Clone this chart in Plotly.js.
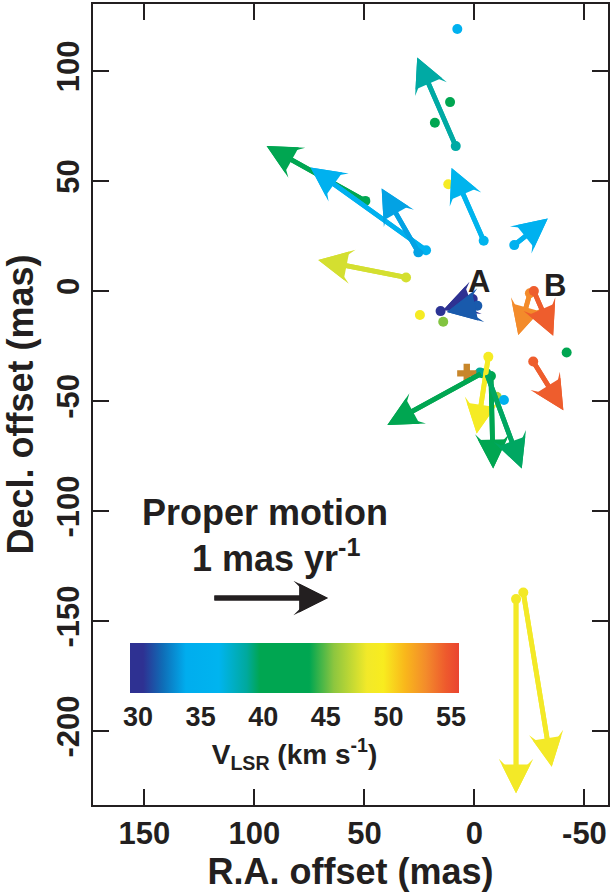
<!DOCTYPE html>
<html><head><meta charset="utf-8">
<script src="https://cdn.plot.ly/plotly-3.0.1.min.js"></script>
<style>html,body{margin:0;padding:0;background:#fff}</style>
</head><body><div id="chart" style="width:610px;height:895px"></div>
<script>
// Maser spots: R.A. offset (mas), Decl. offset (mas), V_LSR (km/s)
const spotRA  = [8.5, -4.2, -18.1, 49.6, 22.0, 25.5, 31.1, 0.8, -1.3, -25.2, -27.0, -26.7, -6.3, -3.5, -7.5, -5.5, -18.9, -22.2,
                 7.8, 11.1, 18.0, 11.9, 15.4, 24.8, 14.2, -41.9, -2.5, -10.1, -13.4];
const spotDec = [65.9, 22.9, 20.9, 41.0, 18.6, 17.6, 6.2, -3.6, -6.7, -1.0, 0.0, -32.0, -29.9, -37.3, -38.6, -37.4, -140.0, -137.0,
                 119.1, 85.9, 76.5, 48.6, -9.1, -10.9, -13.9, -27.9, -37.0, -48.0, -49.5];
const spotV   = [38.5, 36.5, 35.5, 42.0, 35.3, 33.5, 47.5, 30.0, 31.5, 53.0, 54.5, 54.5, 49.0, 40.3, 42.0, 39.5, 48.5, 48.5,
                 35.5, 42.0, 42.0, 49.0, 30.5, 49.0, 45.5, 42.0, 38.8, 46.5, 35.0];
// Proper motions (mas/yr); null = no measured motion
const pmRA  = [0.335, 0.279, -0.291, 0.858, 1.004, 0.319, 0.763, 0.256, 0.264, 0.101, -0.168, -0.262, 0.101, 0.824, -0.019, -0.306, 0.0, -0.247,
               null, null, null, null, null, null, null, null, null, null, null];
const pmDec = [0.771, 0.633, 0.231, 0.478, 0.719, 0.556, 0.151, -0.096, -0.054, -0.363, -0.388, -0.423, -0.665, -0.450, -0.803, -0.826, -1.688, -1.514,
               null, null, null, null, null, null, null, null, null, null, null];
// Scale reference arrow: 1 mas/yr
const refRA = [118.9], refDec = [-139.5], refPmRA = [-1], refPmDec = [0];
// Cross marker position
const crossRA = [3.5], crossDec = [-37.4];
// Ticks
const xTicks = [150, 100, 50, 0, -50];
const xTickText = ['150', '100', '50', '0', '-50'];
const yTicks = [100, 50, 0, -50, -100, -150, -200];
const yTickText = ['100', '50', '0', '-50', '-100', '-150', '-200'];
const cbTicks = [30, 35, 40, 45, 50, 55];
const cbTickText = ['30', '35', '40', '45', '50', '55'];

const pmScale = 52.3; // mas on sky per 1 mas/yr
const cmin = 29.36, cmax = 55.64;
const cscale = [[0,'#2e3192'],[0.04,'#2e3192'],[0.1,'#0f6db7'],[0.17,'#00adee'],[0.27,'#00b4ef'],[0.355,'#00a99d'],
  [0.395,'#00a651'],[0.545,'#00a651'],[0.62,'#8dc63f'],[0.72,'#f2e929'],[0.77,'#f8ec1f'],[0.835,'#f9b81b'],
  [0.9,'#f38b2b'],[0.96,'#ee5a2d'],[1,'#ea4430']];

function hex2rgb(h){return [parseInt(h.substr(1,2),16),parseInt(h.substr(3,2),16),parseInt(h.substr(5,2),16)];}
function vColor(v){
  let s = (v - cmin) / (cmax - cmin); s = Math.max(0, Math.min(1, s));
  for (let i = 1; i < cscale.length; i++) {
    if (s <= cscale[i][0]) {
      const a = cscale[i-1], b = cscale[i];
      const t = (s - a[0]) / (b[0] - a[0] || 1);
      const ca = hex2rgb(a[1]), cb = hex2rgb(b[1]);
      return 'rgb(' + ca.map((c,k)=>Math.round(c + (cb[k]-c)*t)).join(',') + ')';
    }
  }
  return cscale[cscale.length-1][1];
}

const FONT = 'Liberation Sans, Arial, Helvetica, sans-serif';
const INK = '#231f20';
// barbed head (style 3) filled with a solid head (style 2) of equal edge slope -> shallow notch
const HEADS = [{arrowhead:3, arrowsize:1.2, arrowwidth:4.8, standoff:0},
               {arrowhead:2, arrowsize:1.2, arrowwidth:4.8, standoff:0}];

const annotations = [];
function addArrow(ra, dec, pra, pdec, color) {
  HEADS.forEach(h => annotations.push(Object.assign({
    x: ra + pra*pmScale, y: dec + pdec*pmScale, ax: ra, ay: dec,
    xref:'x', yref:'y', axref:'x', ayref:'y', text:'', showarrow:true, arrowcolor: color
  }, h)));
}
for (let i = 0; i < spotRA.length; i++) {
  if (pmRA[i] === null) continue;
  addArrow(spotRA[i], spotDec[i], pmRA[i], pmDec[i], vColor(spotV[i]));
}
for (let i = 0; i < refRA.length; i++) addArrow(refRA[i], refDec[i], refPmRA[i], refPmDec[i], INK);

const txt = (t, x, y, size) => ({text:t, x:x, y:y, xref:'x', yref:'y', showarrow:false,
  xanchor:'center', yanchor:'middle', font:{family:FONT, size:size, color:INK, weight:700}});
annotations.push(txt('Proper motion', 95.2, -100.5, 36));
annotations.push(txt('1 mas yr<sup>-1</sup>', 89.8, -120.5, 36));
annotations.push(txt('A', -2.2, 4.5, 31));
annotations.push(txt('B', -36.6, 2.4, 31));

const traces = [
  {type:'scatter', mode:'markers', x: spotRA, y: spotDec, hoverinfo:'skip',
   marker:{size:10, color: spotV, colorscale: cscale, cmin: cmin, cmax: cmax, showscale:true,
     colorbar:{orientation:'h', x:0.3913, xanchor:'center', y:0.2022, yanchor:'top',
       len:329, lenmode:'pixels', thickness:50, thicknessmode:'pixels', outlinewidth:0, xpad:0, ypad:0,
       tickvals: cbTicks, ticktext: cbTickText, ticks:'', tickfont:{family:FONT, size:27, color:INK, weight:700},
       title:{text:'V<sub>LSR</sub> (km s<sup>-1</sup>)', side:'bottom', font:{family:FONT, size:28, color:INK, weight:700}}}}},
  {type:'scatter', mode:'markers', x: crossRA, y: crossDec, hoverinfo:'skip',
   marker:{symbol:'cross', size:16, color:'#c8862a'}}
];

const axisCommon = {showline:true, mirror:'ticks', linecolor:INK, linewidth:2, ticks:'inside', ticklen:16, tickwidth:2,
  tickcolor:INK, showgrid:false, zeroline:false, tickfont:{family:FONT, size:31, color:INK, weight:700}};

const layout = {
  width:610, height:895, margin:{l:93, r:2, t:4, b:90}, paper_bgcolor:'#fff', plot_bgcolor:'#fff', showlegend:false,
  xaxis: Object.assign({}, axisCommon, {range:[173.4, -60.7], tickvals:xTicks, ticktext:xTickText,
    title:{text:'R.A. offset (mas)', font:{family:FONT, size:36, color:INK, weight:700}, standoff:8}}),
  yaxis: Object.assign({}, axisCommon, {range:[-233.6, 130.5], tickvals:yTicks, ticktext:yTickText, tickangle:-90,
    title:{text:'Decl. offset (mas)', font:{family:FONT, size:36, color:INK, weight:700}, standoff:8}}),
  annotations: annotations
};
Plotly.newPlot('chart', traces, layout, {staticPlot:true});
</script></body></html>
